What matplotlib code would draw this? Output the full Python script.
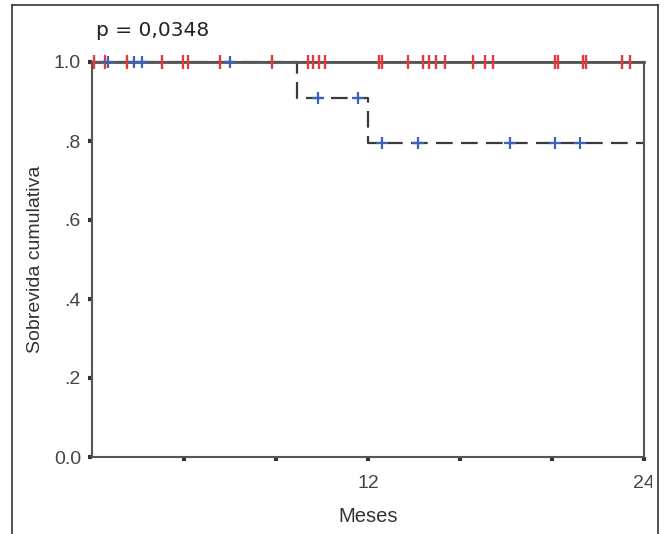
import matplotlib
matplotlib.use('Agg')
import matplotlib.pyplot as plt
from matplotlib.lines import Line2D
from matplotlib.patches import Rectangle
from matplotlib.ticker import FixedLocator, FixedFormatter

plt.rcParams['lines.scale_dashes'] = False

# ---- data (months, cumulative survival) ----
red_times = [0, 24]
red_surv = [1.0, 1.0]
red_censor_times = [0.1, 0.57, 1.52, 3.04, 3.96, 4.17, 5.57, 7.83, 9.39, 9.61,
                    9.87, 10.13, 12.48, 12.6, 13.74, 14.39, 14.65, 14.96, 15.35,
                    16.57, 17.09, 17.43, 20.13, 20.26, 21.35, 21.48, 23.04, 23.39]

blue_times = [0, 8.9, 12.0, 24]
blue_surv = [1.0, 0.909, 0.795, 0.795]
blue_censor_times = [0.70, 1.83, 2.17, 6.0, 9.83, 11.57, 12.6, 14.17, 18.17, 20.13, 21.2]
blue_censor_surv = [1.0, 1.0, 1.0, 1.0, 0.909, 0.909, 0.795, 0.795, 0.795, 0.795, 0.795]

y_ticks = [0.0, 0.2, 0.4, 0.6, 0.8, 1.0]
y_labels = ['0.0', '.2', '.4', '.6', '.8', '1.0']
x_ticks = [4, 8, 12, 16, 20, 24]
x_labels = ['', '', '12', '', '', '24']

W, H = 666, 534
fig = plt.figure(figsize=(W / 100, H / 100), dpi=100)
ax = fig.add_axes([92 / W, 1 - 457 / H, (644 - 92) / W, (457 - 62) / H])

spine_col = '#555555'
# blue group (dashed)
ax.step(blue_times, blue_surv, where='post', color='#3a3a3a', lw=1.6,
        dashes=(12, 6), zorder=2, clip_on=False)
# red group (solid)
ax.plot(red_times, red_surv, color='#555555', lw=2.0, zorder=3, clip_on=False)

ax.plot(red_censor_times, [1.0] * len(red_censor_times), ls='none', marker='|',
        ms=10, mew=1.7, color='#e8383a', zorder=5, clip_on=False)
ax.plot(blue_censor_times, blue_censor_surv, ls='none', marker='+',
        ms=9, mew=1.6, color='#3a62b8', zorder=6, clip_on=False)

ax.set_xlim(0, 24)
ax.set_ylim(0, 1.0)

for s in ax.spines.values():
    s.set_color(spine_col)
    s.set_linewidth(1.5)

ax.yaxis.set_major_locator(FixedLocator(y_ticks))
ax.yaxis.set_major_formatter(FixedFormatter(y_labels))
ax.xaxis.set_major_locator(FixedLocator(x_ticks))
ax.xaxis.set_major_formatter(FixedFormatter(x_labels))
ax.tick_params(axis='both', direction='out', length=3, width=3, color='#333333',
               labelsize=14, labelcolor='#444444')
ax.tick_params(axis='y', pad=5)
ax.tick_params(axis='x', pad=10)
for lab in ax.get_xticklabels() + ax.get_yticklabels():
    lab.set_family('Liberation Sans')

ax.set_xlabel('Meses', fontsize=14.5, color='#333333', family='Liberation Sans', labelpad=11)
ax.set_ylabel('Sobrevida cumulativa', fontsize=14, color='#333333',
              family='Liberation Sans', labelpad=7)

fig.text(96 / W, 1 - 30 / H, 'p = 0,0348', fontsize=14.5, color='#222222',
         va='center', ha='left', family='DejaVu Sans')

# white cover right of frame (clips the "24" label like the reference)
fig.add_artist(Rectangle((652 / W, 0), 1 - 652 / W, 1 - 62 / H,
                         transform=fig.transFigure, facecolor='white',
                         edgecolor='none', zorder=10))

# outer frame
fc = '#333333'
fig.add_artist(Line2D([12 / W, 12 / W], [0, 1 - 5 / H], color=fc, lw=1.2, zorder=11))
fig.add_artist(Line2D([12 / W, 658 / W], [1 - 5 / H, 1 - 5 / H], color=fc, lw=1.2, zorder=11))
fig.add_artist(Line2D([658 / W, 658 / W], [0, 1 - 5 / H], color=fc, lw=1.2, zorder=11))

fig.savefig('out.png', dpi=100)
